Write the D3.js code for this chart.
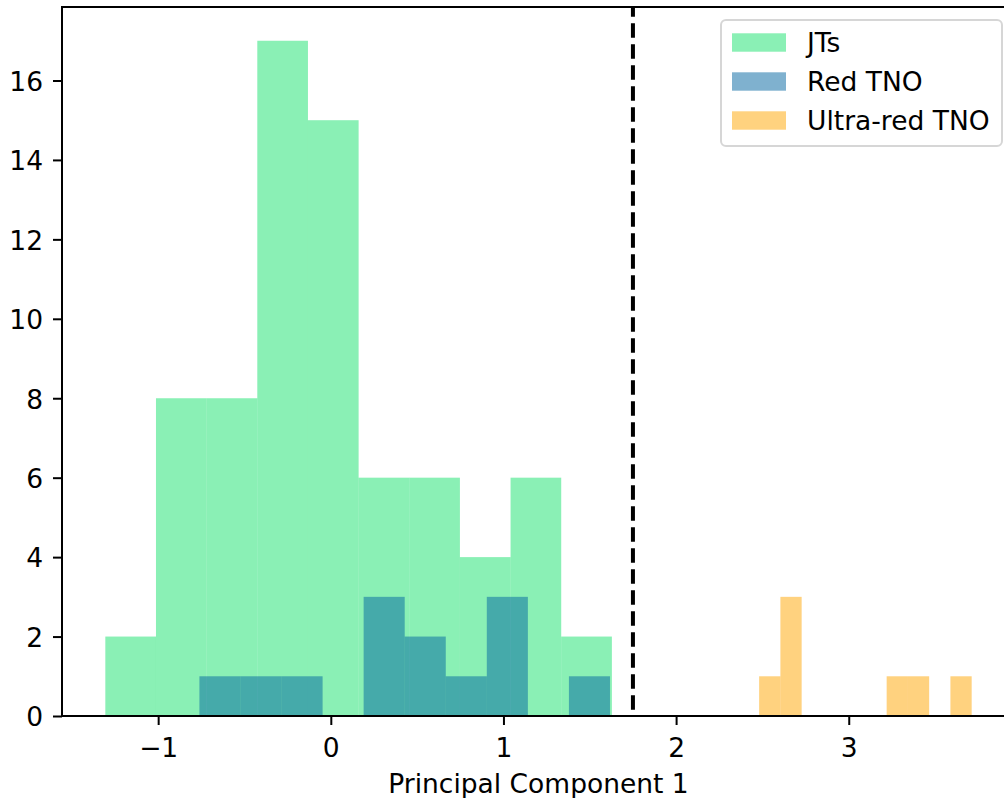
<!DOCTYPE html>
<html>
<head>
<meta charset="utf-8">
<script src="https://cdn.jsdelivr.net/npm/d3@7"></script>
<style>
  html, body { margin: 0; padding: 0; background: #ffffff; overflow: hidden; }
  svg { display: block; font-family: "DejaVu Sans", sans-serif; }
</style>
</head>
<body>
<svg id="chart" width="1004" height="798"></svg>
<script>
// ---- data ----
const seriesNames = ["JTs", "Red TNO", "Ultra-red TNO"];
const jtCounts = [2, 8, 8, 17, 15, 6, 6, 4, 6, 2];
const jtRange = [-1.306, 1.628];
const redCounts = [1, 1, 1, 0, 3, 2, 1, 3, 0, 1];
const redRange = [-0.761, 1.617];
const ultraCounts = [1, 3, 0, 0, 0, 0, 1, 1, 0, 1];
const ultraRange = [2.481, 3.712];
const threshold = 1.75;
const xTicks = [-1, 0, 1, 2, 3];
const yTicks = [0, 2, 4, 6, 8, 10, 12, 14, 16];
const xLabel = "Principal Component 1";

// ---- styling ----
const colors = ["#15e16b", "#0064a0", "#ffa500"];
const alphas = [0.5, 0.5, 0.5];
const fontSize = 26.5;

const svg = d3.select("#chart");
const axL = 62, axR = 1015, axT = 7, axB = 716;

const x = d3.scaleLinear().domain([-1.557, 3.963]).range([axL, axR]);
const y = d3.scaleLinear().domain([0, 17.85]).range([axB, axT]);

function bins(counts, range) {
  const w = (range[1] - range[0]) / counts.length;
  return counts.map((c, i) => ({ x0: range[0] + i * w, x1: range[0] + (i + 1) * w, c }));
}

const seriesData = [bins(jtCounts, jtRange), bins(redCounts, redRange), bins(ultraCounts, ultraRange)];

seriesData.forEach((data, si) => {
  svg.append("g")
    .selectAll("rect")
    .data(data.filter(d => d.c > 0))
    .join("rect")
    .attr("x", d => x(d.x0))
    .attr("width", d => x(d.x1) - x(d.x0))
    .attr("y", d => y(d.c))
    .attr("height", d => y(0) - y(d.c))
    .attr("fill", colors[si])
    .attr("fill-opacity", alphas[si]);
});

// dashed threshold line
svg.append("line")
  .attr("x1", x(threshold)).attr("x2", x(threshold))
  .attr("y1", y.range()[1]).attr("y2", y.range()[0])
  .attr("stroke", "#000")
  .attr("stroke-width", 4)
  .attr("stroke-dasharray", "14.5,6.5")
  .attr("stroke-dashoffset", 4.7);

// axes
const xAxis = d3.axisBottom(x).tickValues(xTicks).tickSize(9).tickPadding(9).tickFormat(d3.format("d"));
const gx = svg.append("g").attr("transform", `translate(0,${axB})`).call(xAxis);
gx.select(".domain").remove();
gx.selectAll(".tick line").attr("stroke", "#000").attr("stroke-width", 2);
gx.selectAll(".tick text")
  .attr("font-size", fontSize)
  .attr("fill", "#000")
  .attr("font-family", "DejaVu Sans")
  .attr("dy", null)
  .attr("y", 41);

const yAxis = d3.axisLeft(y).tickValues(yTicks).tickSize(9).tickPadding(10).tickFormat(d3.format("d"));
const gy = svg.append("g").attr("transform", `translate(${axL},0)`).call(yAxis);
gy.select(".domain").remove();
gy.selectAll(".tick line").attr("stroke", "#000").attr("stroke-width", 2);
gy.selectAll(".tick text")
  .attr("font-size", fontSize)
  .attr("fill", "#000")
  .attr("font-family", "DejaVu Sans")
  .attr("dy", "0.37em");

// spines (left, top, bottom; right is outside the viewport)
svg.append("rect")
  .attr("x", axL).attr("y", axT)
  .attr("width", axR - axL).attr("height", axB - axT)
  .attr("fill", "none").attr("stroke", "#000").attr("stroke-width", 2);

// x label
svg.append("text")
  .attr("x", (axL + axR) / 2)
  .attr("y", 793)
  .attr("text-anchor", "middle")
  .attr("font-size", fontSize)
  .attr("fill", "#000")
  .text(xLabel);

// legend
const lg = svg.append("g");
const lgX = 721, lgY = 20, lgW = 281, lgH = 126;
lg.append("rect")
  .attr("x", lgX).attr("y", lgY).attr("width", lgW).attr("height", lgH)
  .attr("rx", 5).attr("ry", 5)
  .attr("fill", "#fff").attr("fill-opacity", 0.8)
  .attr("stroke", "#d6d6d6").attr("stroke-width", 2);
const rowY = d3.scaleLinear().domain([0, 1]).range([42.5, 81.5]);
seriesNames.forEach((name, i) => {
  const cy = rowY(i);
  lg.append("rect")
    .attr("x", 732).attr("y", cy - 9.2).attr("width", 54).attr("height", 18.4)
    .attr("fill", colors[i]).attr("fill-opacity", alphas[i]);
  lg.append("text")
    .attr("x", 807).attr("y", cy + 9.5)
    .attr("font-size", fontSize)
    .attr("fill", "#000")
    .text(name);
});
</script>
</body>
</html>
